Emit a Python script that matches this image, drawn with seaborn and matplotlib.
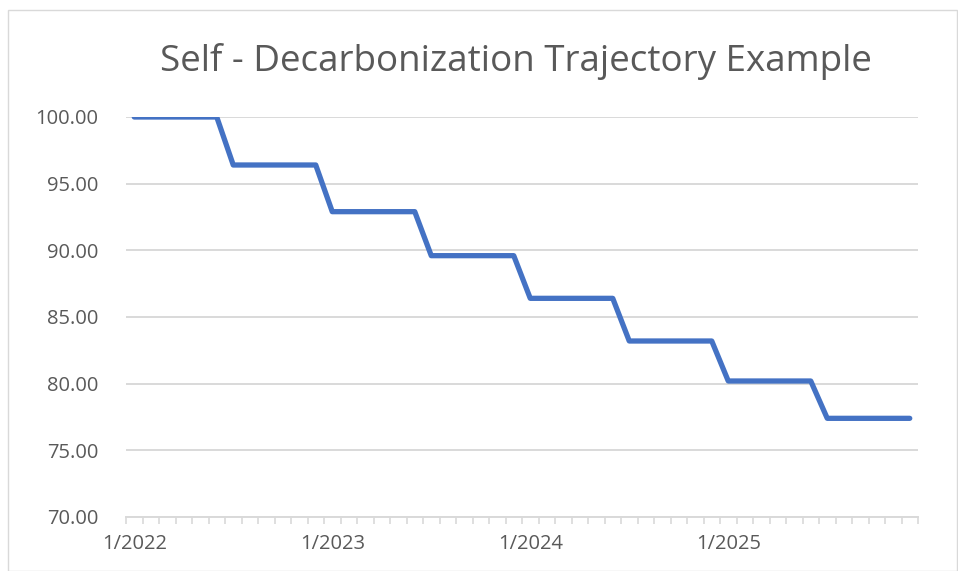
import numpy as np
import pandas as pd
import matplotlib
matplotlib.use("Agg")
import matplotlib.pyplot as plt
import seaborn as sns
from matplotlib.patches import Rectangle

# Data: monthly values, stepping down every 6 months
step_levels = [100.0, 96.4, 92.9, 89.6, 86.4, 83.2, 80.2, 77.4]
months_per_step = 6
years = [2022, 2023, 2024, 2025]
month_labels = [f"{m}/{y}" for y in years for m in range(1, 13)]
values = [v for v in step_levels for _ in range(months_per_step)]
major_labels = ["1/2022", "1/2023", "1/2024", "1/2025"]

df = pd.DataFrame({"idx": np.arange(len(values)), "month": month_labels, "value": values})

sns.set_theme(style="white")
plt.rcParams['font.family'] = ['Open Sans', 'DejaVu Sans']

fig = plt.figure(figsize=(9.58, 5.71), dpi=100)
ax = fig.add_axes([126/958, 1-517/571, (918-126)/958, (517-117)/571])

sns.lineplot(data=df, x="idx", y="value", ax=ax, color="#4472C4", linewidth=3.8,
             solid_capstyle="round", solid_joinstyle="round")

ax.set_xlim(-0.5, len(values) - 0.5)
ax.set_ylim(70, 100)
ax.set_yticks(np.arange(70, 100.1, 5))
ax.set_yticklabels([f"{v:.2f}" for v in np.arange(70, 100.1, 5)])
ax.yaxis.grid(True, color="#D9D9D9", linewidth=1.4)
ax.set_axisbelow(True)

major_pos = [month_labels.index(l) for l in major_labels]
ax.set_xticks(major_pos)
ax.set_xticklabels(major_labels)
ax.set_xticks(np.arange(-0.5, len(values), 1), minor=True)
ax.tick_params(axis="x", which="major", length=0, pad=12, labelsize=14.5, colors="#595959")
ax.tick_params(axis="x", which="minor", length=5, width=1.2, color="#D9D9D9", direction="out", bottom=True)
ax.tick_params(axis="y", length=0, pad=20, labelsize=14.5, colors="#595959")

for s in ["top", "right", "left"]:
    ax.spines[s].set_visible(False)
ax.spines["bottom"].set_color("#D9D9D9")
ax.spines["bottom"].set_linewidth(1.4)
ax.set_xlabel("")
ax.set_ylabel("")

fig.text(0.5386, 1-62/571, "Self - Decarbonization Trajectory Example", ha="center", va="center",
         fontsize=26.5, color="#595959")

fig.patches.append(Rectangle((8/958, 0), 1-8/958 - 0.001, 1-10/571, transform=fig.transFigure,
                             fill=False, edgecolor="#D9D9D9", linewidth=1))

fig.savefig("out.png", dpi=100, facecolor="white")
